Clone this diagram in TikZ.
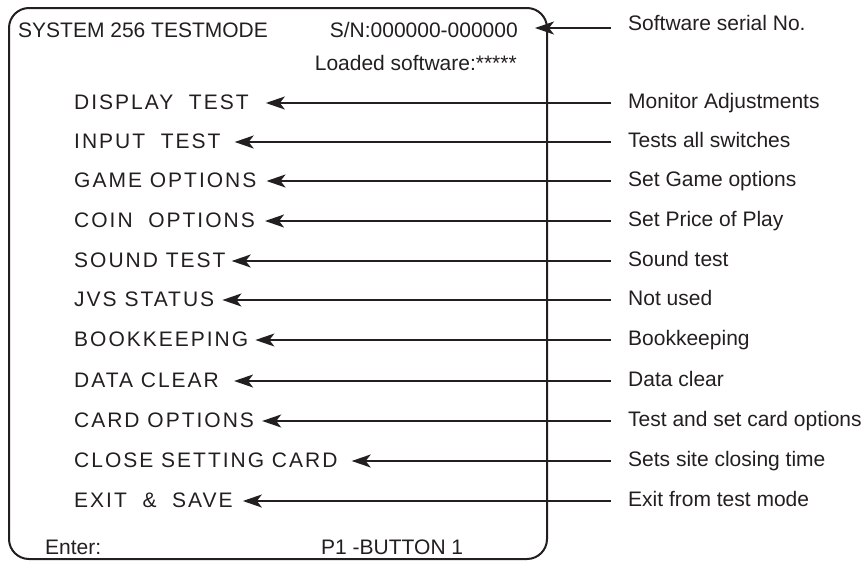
\documentclass[tikz,border=0pt]{standalone}
\usepackage{fontspec}
\setmainfont{Liberation Sans}
\newfontfamily\menufont[LetterSpace=9.5]{Liberation Sans}
\usetikzlibrary{arrows.meta,calc}
\definecolor{ink}{RGB}{35,31,32}
\tikzset{
  frame/.style={draw=ink,line width=2pt,rounded corners=20pt},
  menuitem/.style={anchor=base west,inner sep=0pt,text=ink,font=\fontsize{21}{25}\selectfont\menufont},
  plain/.style={anchor=base west,inner sep=0pt,text=ink,font=\fontsize{21}{25}\selectfont},
  plainr/.style={anchor=base east,inner sep=0pt,text=ink,font=\fontsize{21}{25}\selectfont},
  pointer/.style={draw=ink,line width=1.7pt,-{Stealth[length=19pt,width=13pt,inset=5pt]}}
}
\begin{document}
\begin{tikzpicture}[x=1pt,y=-1pt]
\useasboundingbox (0,0) rectangle (865,562);
\draw[frame] (9,8) rectangle (547,559);
% header
\node[plain] (sys) at (18,37) {SYSTEM 256 TESTMODE};
\node[plainr] (sn) at (518,37) {S/N:000000-000000};
\node[plainr] (loaded) at (517,70) {Loaded software:*****};
\node[plain] (snlbl) at (628,30) {Software serial No.};
\coordinate (r0) at (611,28);
\draw[pointer] (r0) -- ($(sn.east |- r0)+(17,0)$);
% footer
\node[plain] (enter) at (45,554) {Enter:};
\node[plain] (p1) at (321,554) {P1 -BUTTON 1};
% menu rows
\foreach \n/\item/\desc/\y/\g in {
  1/DISPLAY~~TEST/Monitor Adjustments/103/17,
  2/INPUT~~TEST/Tests all switches/142/14,
  3/GAME OPTIONS/Set Game options/181/10,
  4/COIN~~OPTIONS/Set Price of Play/221/10,
  5/SOUND TEST/Sound test/261/6,
  6/JVS STATUS/Not used/300/8,
  7/BOOKKEEPING/Bookkeeping/340/7,
  8/DATA CLEAR/Data clear/381/15,
  9/CARD OPTIONS/Test and set card options/421/8,
  10/CLOSE SETTING CARD/Sets site closing time/461/14,
  11/EXIT~~\&~~SAVE/Exit from test mode/501/10}{
  \node[menuitem] (m\n) at (74,\y+6) {\item};
  \node[plain] (d\n) at (628,\y+5.5) {\desc};
  \coordinate (r\n) at (611,\y);
  \draw[pointer] (r\n) -- ($(m\n.east |- r\n)+(\g,0)$);
}
\end{tikzpicture}
\end{document}
